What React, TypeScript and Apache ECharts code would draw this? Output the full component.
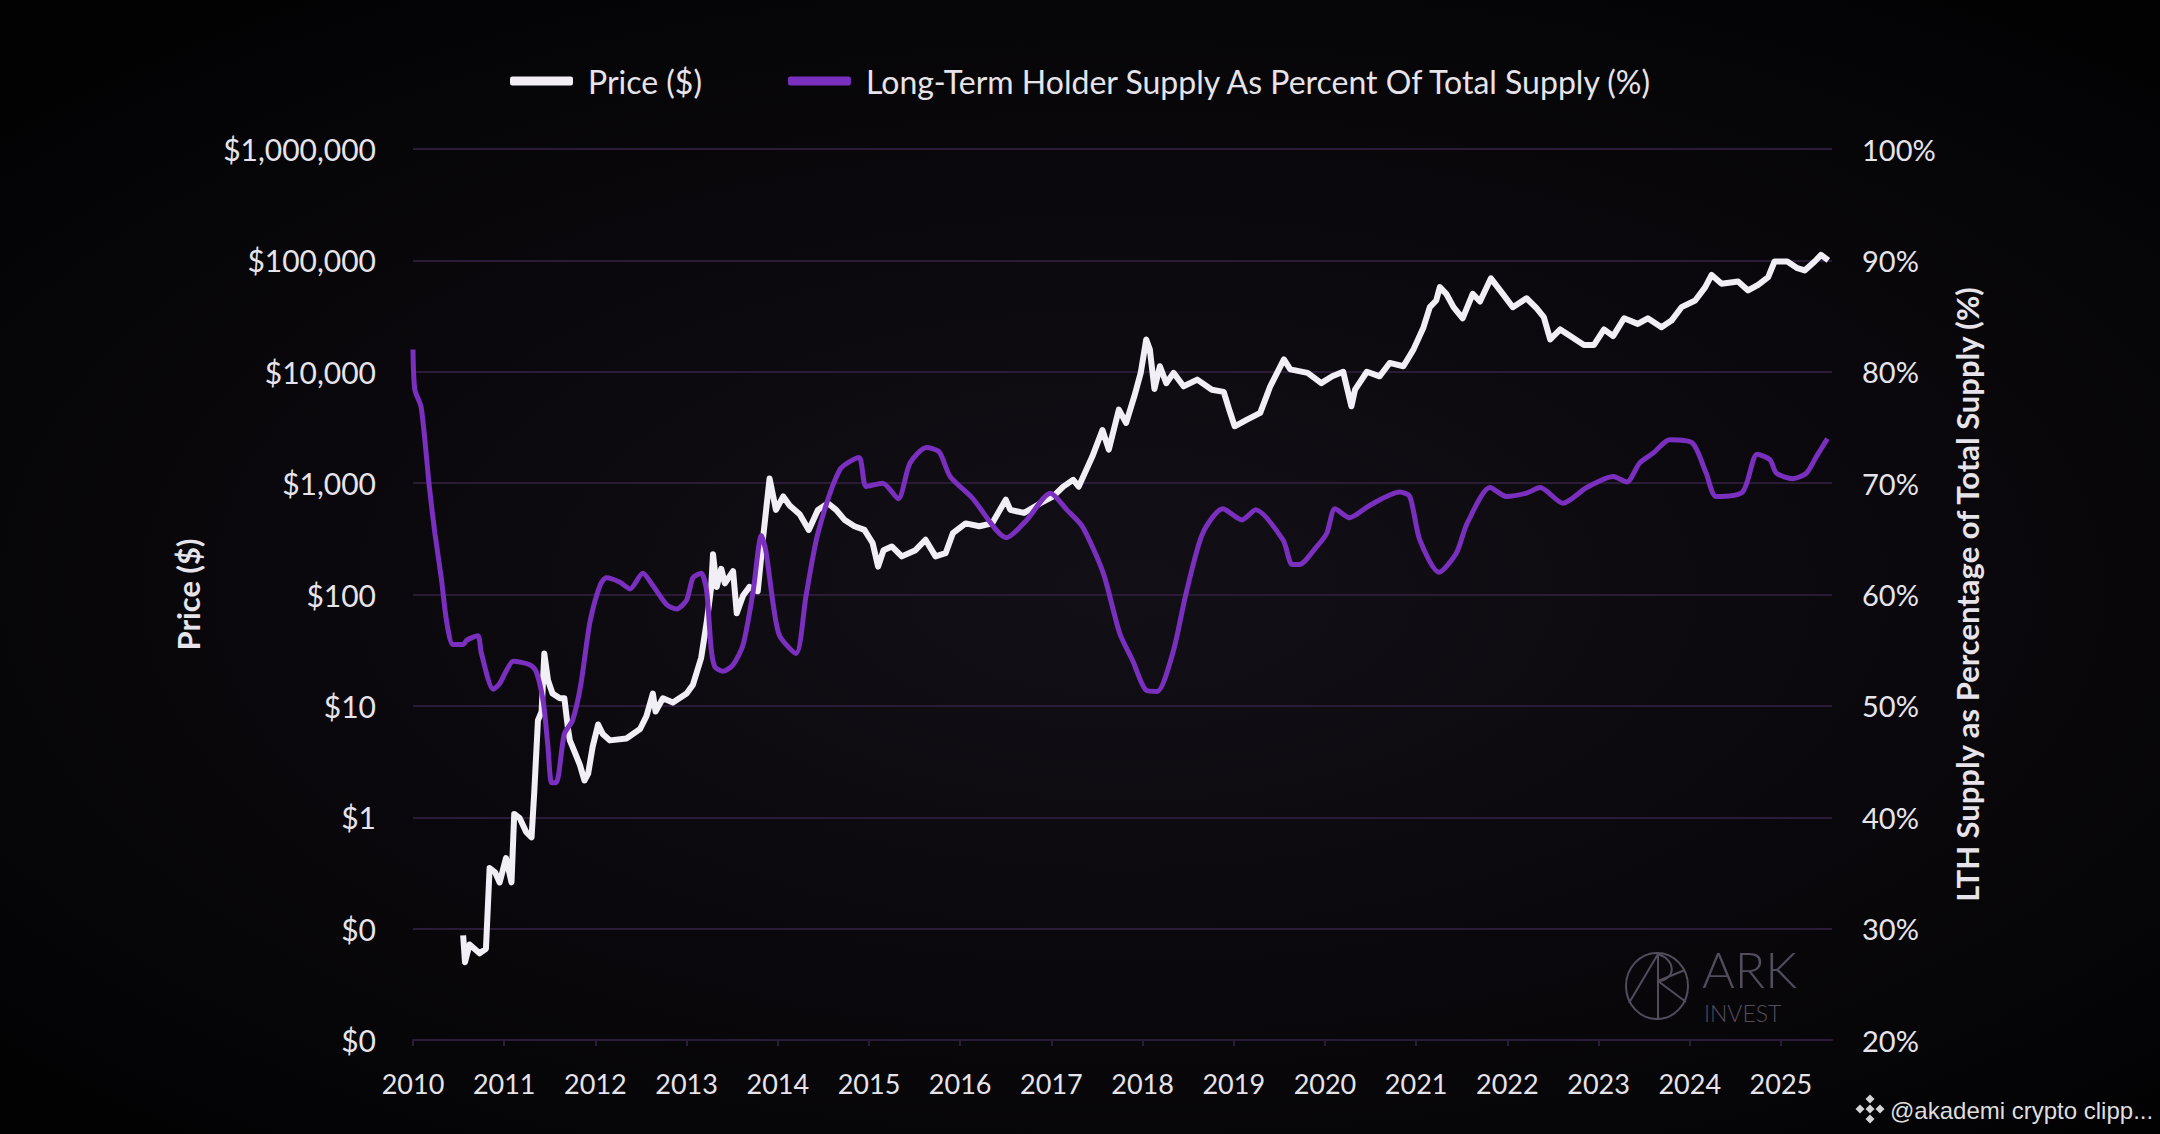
import { useEffect, useRef } from "react";
import * as echarts from "echarts";

// Bitcoin price (log scale) — decimal year / USD
const priceYears = [
  2010.55, 2010.57, 2010.62, 2010.73, 2010.8, 2010.84, 2010.9, 2010.95, 2011.02, 2011.08,
  2011.11, 2011.17, 2011.24, 2011.3, 2011.33, 2011.37, 2011.41, 2011.44, 2011.48, 2011.53,
  2011.61, 2011.66, 2011.7, 2011.72, 2011.77, 2011.83, 2011.88, 2011.92, 2011.97, 2012.03,
  2012.08, 2012.16, 2012.34, 2012.49, 2012.56, 2012.63, 2012.66, 2012.74, 2012.85, 2013.0,
  2013.07, 2013.16, 2013.22, 2013.27, 2013.29, 2013.33, 2013.38, 2013.42, 2013.51, 2013.55,
  2013.62, 2013.69, 2013.78, 2013.84, 2013.91, 2013.98, 2014.06, 2014.13, 2014.24, 2014.34,
  2014.44, 2014.55, 2014.64, 2014.73, 2014.84, 2014.95, 2015.04, 2015.1, 2015.16, 2015.25,
  2015.36, 2015.51, 2015.62, 2015.73, 2015.84, 2015.92, 2016.06, 2016.21, 2016.35, 2016.5,
  2016.55, 2016.7, 2016.88, 2017.02, 2017.13, 2017.24, 2017.3, 2017.45, 2017.56, 2017.63,
  2017.74, 2017.82, 2017.91, 2017.98, 2018.04, 2018.08, 2018.13, 2018.19, 2018.26, 2018.34,
  2018.45, 2018.6, 2018.76, 2018.89, 2018.95, 2019.01, 2019.14, 2019.29, 2019.4, 2019.55,
  2019.62, 2019.81, 2019.96, 2020.08, 2020.2, 2020.29, 2020.33, 2020.46, 2020.6, 2020.71,
  2020.86, 2020.97, 2021.08, 2021.15, 2021.22, 2021.26, 2021.33, 2021.41, 2021.51, 2021.62,
  2021.7, 2021.82, 2021.95, 2022.06, 2022.21, 2022.32, 2022.4, 2022.47, 2022.58, 2022.69,
  2022.84, 2022.95, 2023.06, 2023.16, 2023.28, 2023.43, 2023.54, 2023.69, 2023.8, 2023.91,
  2024.06, 2024.17, 2024.24, 2024.35, 2024.53, 2024.64, 2024.75, 2024.86, 2024.93, 2025.07,
  2025.18, 2025.26, 2025.37, 2025.44, 2025.52,
];
const priceValues = [
  0.087, 0.05, 0.072, 0.06, 0.066, 0.35, 0.32, 0.26, 0.43, 0.26,
  1.07, 0.98, 0.74, 0.66, 1.7, 7.4, 8.9, 29.5, 17, 12.9,
  11.7, 11.7, 6.2, 4.9, 3.9, 2.95, 2.14, 2.45, 4.3, 6.8,
  5.6, 4.9, 5.1, 6.2, 8.1, 12.9, 8.9, 11.7, 10.7, 12.9,
  15.5, 27, 56, 117, 230, 117, 170, 126, 162, 68,
  98, 117, 107, 330, 1100, 575, 760, 630, 525, 380,
  575, 660, 575, 470, 410, 380, 290, 178, 250, 270,
  220, 250, 310, 220, 235, 355, 435, 410, 435, 710,
  575, 540, 660, 760, 930, 1070, 930, 1740, 3000, 2000,
  4570, 3470, 6030, 9770, 19500, 15800, 7000, 11200, 7900, 9770,
  7400, 8500, 6900, 6600, 4570, 3240, 3700, 4270, 7400, 12900,
  10500, 9770, 7900, 9100, 10000, 4900, 6900, 10000, 9100, 12000,
  11200, 15800, 25000, 38000, 43600, 57500, 50100, 38000, 30200, 50100,
  42700, 69000, 50100, 38000, 45700, 37200, 30900, 19500, 24000, 20900,
  17400, 17400, 24000, 20900, 30200, 26900, 30200, 25100, 28800, 38000,
  43600, 57500, 74000, 61700, 64600, 53700, 60300, 70800, 97700, 97700,
  85100, 81300, 97700, 112000, 100000,
];

// Long-term holder supply as % of total supply
const lthYears = [
  2010.0, 2010.02, 2010.09, 2010.18, 2010.24, 2010.31, 2010.37, 2010.44, 2010.55, 2010.59,
  2010.71, 2010.75, 2010.88, 2010.95, 2011.02, 2011.1, 2011.28, 2011.35, 2011.43, 2011.48,
  2011.52, 2011.57, 2011.66, 2011.75, 2011.84, 2011.94, 2012.05, 2012.12, 2012.27, 2012.38,
  2012.52, 2012.63, 2012.78, 2012.89, 2013.0, 2013.07, 2013.16, 2013.22, 2013.27, 2013.31,
  2013.4, 2013.51, 2013.62, 2013.73, 2013.82, 2013.87, 2013.95, 2014.02, 2014.2, 2014.31,
  2014.44, 2014.68, 2014.89, 2014.97, 2015.15, 2015.32, 2015.45, 2015.63, 2015.77, 2015.89,
  2016.13, 2016.51, 2016.73, 2016.99, 2017.17, 2017.34, 2017.57, 2017.75, 2017.89, 2018.04,
  2018.16, 2018.33, 2018.48, 2018.66, 2018.88, 2019.09, 2019.24, 2019.54, 2019.64, 2019.72,
  2019.91, 2020.02, 2020.11, 2020.27, 2020.49, 2020.82, 2020.93, 2021.04, 2021.25, 2021.44,
  2021.56, 2021.81, 2021.99, 2022.21, 2022.36, 2022.61, 2022.87, 2023.16, 2023.31, 2023.45,
  2023.6, 2023.78, 2024.03, 2024.18, 2024.29, 2024.58, 2024.74, 2024.88, 2024.95, 2025.13,
  2025.28, 2025.39, 2025.51,
];
const lthValues = [
  82.0, 78.4, 76.8, 69.6, 65.5, 61.5, 57.5, 55.5, 55.5, 55.9,
  56.3, 54.7, 51.5, 52.0, 53.1, 54.0, 53.7, 53.1, 50.3, 46.3,
  43.1, 43.1, 47.5, 48.7, 51.9, 57.5, 60.8, 61.5, 61.1, 60.5,
  61.9, 60.8, 59.1, 58.7, 59.5, 61.5, 61.9, 60.3, 55.1, 53.5,
  53.1, 53.7, 55.5, 60.3, 65.3, 63.9, 59.1, 56.3, 54.7, 59.9,
  65.5, 71.2, 72.3, 69.7, 70.0, 68.6, 71.8, 73.2, 72.8, 70.6,
  68.7, 65.1, 66.7, 69.1, 67.6, 66.1, 61.9, 56.5, 54.1, 51.4,
  51.3, 54.7, 60.2, 65.5, 67.7, 66.7, 67.6, 64.9, 62.7, 62.7,
  64.3, 65.5, 67.7, 66.9, 68.0, 69.2, 68.8, 64.9, 62.0, 63.7,
  66.4, 69.6, 68.8, 69.1, 69.6, 68.2, 69.6, 70.6, 70.1, 71.8,
  72.7, 73.9, 73.6, 70.9, 68.8, 69.2, 72.6, 72.1, 70.9, 70.4,
  70.9, 72.4, 74.0,
];

const PRICE_NAME = "Price ($)";
const LTH_NAME = "Long-Term Holder Supply As Percent Of Total Supply (%)";

const FONT = "Lato, 'Open Sans', sans-serif";
const TEXT = "#e6e4ea";
const GRID_LINE = "#2a1c36";
const WATERMARK = "#534c5c";

function diamond(cx: number, cy: number, r: number) {
  return {
    type: "polygon",
    shape: { points: [[cx, cy - r], [cx + r, cy], [cx, cy + r], [cx - r, cy]] },
    style: { fill: "#d4d4d4" },
  };
}

export default function App() {
  const chartRef = useRef<HTMLDivElement>(null);

  useEffect(() => {
    document.body.style.margin = "0";
    document.body.style.background = "#000";
    if (!chartRef.current) return;
    const chart = echarts.init(chartRef.current, null, { renderer: "svg" });

    const priceData = priceYears.map((y, i) => [y, priceValues[i]]);
    const lthData = lthYears.map((y, i) => [y, lthValues[i]]);

    chart.setOption({
      animation: false,
      backgroundColor: "transparent",
      textStyle: { fontFamily: FONT },
      grid: { left: 413, right: 328, top: 149, bottom: 94, containLabel: false },
      legend: {
        left: 510,
        top: 65,
        padding: 0,
        itemWidth: 63,
        itemHeight: 9,
        itemGap: 86,
        textStyle: { color: TEXT, fontSize: 32, fontFamily: FONT, padding: [0, 0, 0, 10] },
        data: [
          { name: PRICE_NAME, icon: "roundRect" },
          { name: LTH_NAME, icon: "roundRect" },
        ],
      },
      xAxis: {
        type: "value",
        min: 2010,
        max: 2025.56,
        interval: 1,
        axisLine: { show: true, lineStyle: { color: GRID_LINE, width: 2 } },
        axisTick: { show: true, length: 6, lineStyle: { color: GRID_LINE, width: 2 } },
        splitLine: { show: false },
        axisLabel: {
          color: TEXT,
          fontSize: 27,
          fontFamily: FONT,
          margin: 30,
          showMaxLabel: false,
          formatter: (v: number) => (Number.isInteger(v) ? String(v) : ""),
        },
      },
      yAxis: [
        {
          type: "log",
          logBase: 10,
          min: 0.01,
          max: 1000000,
          splitNumber: 8,
          position: "left",
          name: "Price ($)",
          nameLocation: "middle",
          nameRotate: 90,
          nameGap: 210,
          nameTextStyle: { color: TEXT, fontSize: 31, fontWeight: "bold", fontFamily: FONT },
          axisLine: { show: false },
          axisTick: { show: false },
          splitLine: { show: true, lineStyle: { color: GRID_LINE, width: 2 } },
          axisLabel: {
            color: TEXT,
            fontSize: 30,
            fontFamily: FONT,
            margin: 37,
            formatter: (v: number) =>
              v < 0.5 ? "$0" : "$" + Math.round(v).toLocaleString("en-US"),
          },
        },
        {
          type: "value",
          min: 20,
          max: 100,
          interval: 10,
          position: "right",
          name: "LTH Supply as Percentage of Total Supply (%)",
          nameLocation: "middle",
          nameRotate: 90,
          nameGap: 119,
          nameTextStyle: { color: TEXT, fontSize: 31, fontWeight: "bold", fontFamily: FONT },
          axisLine: { show: false },
          axisTick: { show: false },
          splitLine: { show: false },
          axisLabel: {
            color: TEXT,
            fontSize: 29,
            fontFamily: FONT,
            margin: 30,
            formatter: "{value}%",
          },
        },
      ],
      series: [
        {
          name: PRICE_NAME,
          type: "line",
          yAxisIndex: 0,
          data: priceData,
          showSymbol: false,
          lineStyle: { color: "#f1eef6", width: 6, join: "round" },
          itemStyle: { color: "#f1eef6" },
          z: 2,
        },
        {
          name: LTH_NAME,
          type: "line",
          yAxisIndex: 1,
          data: lthData,
          showSymbol: false,
          smooth: 0.25,
          lineStyle: { color: "#7a2fbf", width: 5 },
          itemStyle: { color: "#7a2fbf" },
          z: 3,
        },
      ],
      graphic: [
        // ARK Invest watermark
        {
          type: "ellipse",
          shape: { cx: 1657, cy: 986, rx: 31, ry: 33 },
          style: { fill: "none", stroke: WATERMARK, lineWidth: 2 },
          silent: true,
        },
        {
          type: "line",
          shape: { x1: 1658, y1: 954, x2: 1658, y2: 1019 },
          style: { stroke: WATERMARK, lineWidth: 2 },
        },
        {
          type: "line",
          shape: { x1: 1658, y1: 954, x2: 1629, y2: 1003 },
          style: { stroke: WATERMARK, lineWidth: 2 },
        },
        {
          type: "line",
          shape: { x1: 1658, y1: 981, x2: 1685, y2: 970 },
          style: { stroke: WATERMARK, lineWidth: 2 },
        },
        {
          type: "line",
          shape: { x1: 1658, y1: 981, x2: 1686, y2: 1002 },
          style: { stroke: WATERMARK, lineWidth: 2 },
        },
        {
          type: "bezierCurve",
          shape: { x1: 1658, y1: 954, cpx1: 1676, cpy1: 960, x2: 1660, y2: 981, cpx2: 1676, cpy2: 978 },
          style: { fill: "none", stroke: WATERMARK, lineWidth: 2 },
        },
        {
          type: "text",
          x: 1702,
          y: 969,
          style: {
            text: "ARK",
            fill: WATERMARK,
            fontSize: 50,
            fontWeight: 300,
            fontFamily: FONT,
            lineHeight: 36,
            verticalAlign: "middle",
          },
        },
        {
          type: "text",
          x: 1704,
          y: 1013,
          style: {
            text: "INVEST",
            fill: WATERMARK,
            fontSize: 23,
            fontWeight: 300,
            fontFamily: FONT,
            lineHeight: 17,
            verticalAlign: "middle",
          },
        },
        // credit
        diamond(1870, 1099, 4.5),
        diamond(1860, 1109, 4.5),
        diamond(1880, 1109, 4.5),
        diamond(1870, 1119, 4.5),
        diamond(1870, 1109, 4.5),
        {
          type: "text",
          x: 1890,
          y: 1110,
          style: {
            text: "@akademi crypto clipp...",
            fill: "#dedede",
            fontSize: 24,
            fontFamily: "'Liberation Sans', Arial, sans-serif",
            verticalAlign: "middle",
          },
        },
      ],
    });

    return () => chart.dispose();
  }, []);

  return (
    <div
      ref={chartRef}
      style={{
        width: 2160,
        height: 1134,
        background:
          "radial-gradient(ellipse 70% 65% at 52% 52%, #130f17 0%, #0a080c 55%, #020203 100%)",
      }}
    />
  );
}
